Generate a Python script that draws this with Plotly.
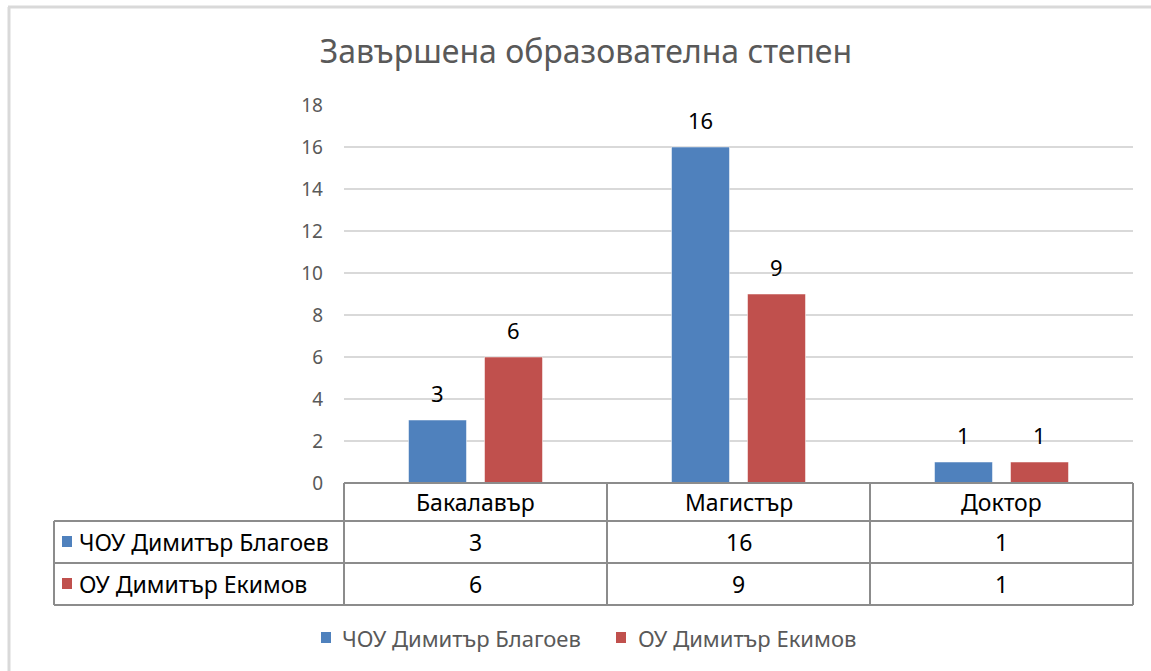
import plotly.graph_objects as go

categories = ["Бакалавър", "Магистър", "Доктор"]
series_names = ["ЧОУ Димитър Благоев", "ОУ Димитър Екимов"]
blagoev = [3, 16, 1]
ekimov = [6, 9, 1]
y_ticks = [0, 2, 4, 6, 8, 10, 12, 14, 16, 18]

colors = ["#4F81BD", "#C0504D"]
series_values = [blagoev, ekimov]

W, H = 1151, 671
L, R, T, B = 344, 18, 105, 188
pw = W - L - R
ph = H - T - B

def px_x(px):
    return (px - L) / pw

def px_y(py):
    return (H - B - py) / ph

FONT = "Noto Sans"

fig = go.Figure()
for name, vals, c in zip(series_names, series_values, colors):
    fig.add_trace(go.Bar(
        x=categories, y=vals, name=name,
        marker=dict(color=c, line=dict(color="rgba(255,255,255,0.5)", width=1)),
        showlegend=False,
    ))

annotations = []
# data labels above bars
slot_px = 38
for i, vals in enumerate(series_values):
    for cat, v in zip(categories, vals):
        annotations.append(dict(x=cat, xref="x", y=v, yref="y", text=str(v), showarrow=False,
                                xshift=(-slot_px if i == 0 else slot_px), yshift=27, yanchor="middle",
                                font=dict(family=FONT, size=22, color="#000000")))

shapes = []
grid_color = "#8C8C8C"
lw = 2
y_hdr = 0
y_r1 = px_y(521)
y_r2 = px_y(563)
y_bot = px_y(605)
x_left = px_x(54)
shapes.append(dict(type="line", xref="paper", yref="paper", x0=0, x1=1, y0=y_hdr, y1=y_hdr, line=dict(color=grid_color, width=lw)))
for yy in (y_r1, y_r2, y_bot):
    shapes.append(dict(type="line", xref="paper", yref="paper", x0=x_left, x1=1, y0=yy, y1=yy, line=dict(color=grid_color, width=lw)))
for i in range(len(categories) + 1):
    xx = i / len(categories)
    shapes.append(dict(type="line", xref="paper", yref="paper", x0=xx, x1=xx, y0=y_hdr, y1=y_bot, line=dict(color=grid_color, width=lw)))
shapes.append(dict(type="line", xref="paper", yref="paper", x0=x_left, x1=x_left, y0=y_r1, y1=y_bot, line=dict(color=grid_color, width=lw)))
# outer frame (top and left)
shapes.append(dict(type="line", xref="paper", yref="paper", x0=px_x(8), x1=px_x(W + 5), y0=px_y(7), y1=px_y(7), line=dict(color="#D9D9D9", width=3)))
shapes.append(dict(type="line", xref="paper", yref="paper", x0=px_x(9), x1=px_x(9), y0=px_y(7), y1=px_y(H + 5), line=dict(color="#D9D9D9", width=3)))
# legend keys in the table
for i, c in enumerate(colors):
    cy = 542 + 42 * i
    shapes.append(dict(type="rect", xref="paper", yref="paper", x0=px_x(62), x1=px_x(72), y0=px_y(cy - 6), y1=px_y(cy + 5), line=dict(width=0), fillcolor=c))

tf = dict(family=FONT, size=23, color="#000000")
for j, cat in enumerate(categories):
    annotations.append(dict(x=cat, xref="x", y=px_y(502), yref="paper", text=cat, showarrow=False, font=tf, xanchor="center", yanchor="middle"))
    for i, vals in enumerate(series_values):
        annotations.append(dict(x=cat, xref="x", y=px_y(542 + 42 * i), yref="paper", text=str(vals[j]), showarrow=False, font=tf, xanchor="center", yanchor="middle"))
for i, name in enumerate(series_names):
    annotations.append(dict(x=px_x(77), xref="paper", y=px_y(542 + 42 * i), yref="paper", text=name, showarrow=False, font=tf, xanchor="left", yanchor="middle"))

# bottom legend
leg_sq = [321, 616]
leg_tx = [340, 636]
for i, (name, c) in enumerate(zip(series_names, colors)):
    shapes.append(dict(type="rect", xref="paper", yref="paper", x0=px_x(leg_sq[i]), x1=px_x(leg_sq[i] + 10),
                       y0=px_y(638 - 6), y1=px_y(638 + 5), line=dict(width=0), fillcolor=c))
    annotations.append(dict(x=px_x(leg_tx[i]), xref="paper", y=px_y(638), yref="paper", text=name, showarrow=False,
                            xanchor="left", yanchor="middle", font=dict(family=FONT, size=22, color="#595959")))

fig.update_layout(
    width=W, height=H,
    margin=dict(l=L, r=R, t=T, b=B),
    paper_bgcolor="white", plot_bgcolor="white",
    title=dict(text="Завършена образователна степен", xref="paper", x=px_x(586), xanchor="center", y=1 - 52 / H, yanchor="middle",
               font=dict(family=FONT, size=32, color="#595959")),
    barmode="group", bargap=0.422, bargroupgap=0.237,
    showlegend=False,
    xaxis=dict(showticklabels=False, showgrid=False, zeroline=False, showline=False, ticks=""),
    yaxis=dict(range=[0, 18], tickvals=y_ticks, showgrid=True, gridcolor="#D9D9D9", gridwidth=2,
               zeroline=False, showline=False, ticks="", ticklabelstandoff=20,
               tickfont=dict(family=FONT, size=19, color="#595959")),
    shapes=shapes, annotations=annotations,
)

fig.write_html("out.html", config={"displayModeBar": False},
               post_script="document.body.style.margin='0';")
